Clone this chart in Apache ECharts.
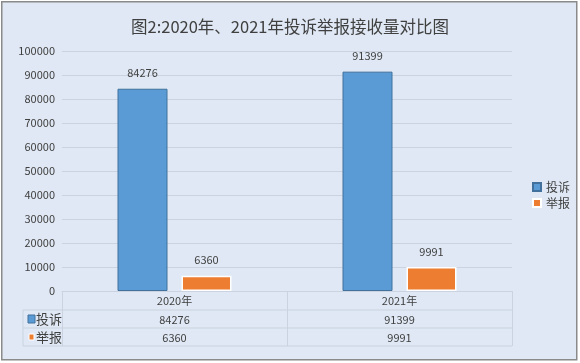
<!DOCTYPE html>
<html>
<head>
<meta charset="utf-8">
<script src="https://cdn.jsdelivr.net/npm/echarts@6/dist/echarts.min.js"></script>
<style>
html,body{margin:0;padding:0;background:#ffffff;}
#c{width:580px;height:363px;}
</style>
</head>
<body>
<div id="c"></div>
<script>
var titleText = '图2:2020年、2021年投诉举报接收量对比图';
var categories = ['2020年', '2021年'];
var seriesNames = ['投诉', '举报'];
var complaints = [84276, 91399];
var reports = [6360, 9991];
var yTicks = [0, 10000, 20000, 30000, 40000, 50000, 60000, 70000, 80000, 90000, 100000];

var colors = ['#5b9bd5', '#ed7d31'];
var textColor = '#404040';
var lineColor = '#cad3df';
var font = '"Noto Sans CJK SC", "Noto Sans", sans-serif';

var chart = echarts.init(document.getElementById('c'), null, {renderer: 'canvas'});

function tableAxis(values, offset) {
  return {
    type: 'category', data: categories, position: 'bottom', offset: offset,
    axisLine: {show: false}, axisTick: {show: false},
    axisLabel: {color: textColor, fontSize: 11, fontFamily: font, margin: 4,
      formatter: function (v, i) { return String(values[i]); }}
  };
}

var hLines = [
  {x1: 23, y1: 310, x2: 512, y2: 310},
  {x1: 23, y1: 328, x2: 512, y2: 328},
  {x1: 23, y1: 346, x2: 512, y2: 346},
  {x1: 23, y1: 310, x2: 23, y2: 346}
];
var graphics = [
  {type: 'rect', left: 1, top: 1, shape: {width: 575, height: 358}, z: -10,
   style: {fill: '#dfe8f4', stroke: '#8a8a8a', lineWidth: 1.5}}
];
hLines.forEach(function (l) {
  graphics.push({type: 'line', shape: l, style: {stroke: lineColor, lineWidth: 1}, z: 1});
});
// row headers of data table
seriesNames.forEach(function (name, i) {
  var cy = 319 + i * 18;
  graphics.push({type: 'rect', shape: i === 0 ? {x: 28, y: cy - 4, width: 7, height: 8} : {x: 29, y: cy - 3, width: 5, height: 6},
    style: {fill: colors[i], stroke: i === 0 ? '#41719c' : '#fff', lineWidth: 1}, z: 2});
  graphics.push({type: 'text', x: 36, y: cy, style: {text: name, fill: textColor,
    font: '13px ' + font, textVerticalAlign: 'middle'}, z: 2});
});

chart.setOption({
  backgroundColor: 'transparent',
  animation: false,
  color: colors,
  title: {
    text: titleText, left: 'center', top: 13,
    textStyle: {color: textColor, fontSize: 16.5, fontWeight: 'normal', fontFamily: font}
  },
  legend: {
    orient: 'vertical', left: 527, top: 176, itemWidth: 8, itemHeight: 8, itemGap: 4,
    icon: 'rect',
    textStyle: {color: textColor, fontSize: 12, fontFamily: font},
    data: seriesNames
  },
  grid: {left: 62, right: 68, top: 51, bottom: 72},
  xAxis: [
    {
      type: 'category', data: categories,
      axisLine: {show: true, lineStyle: {color: lineColor}},
      axisTick: {show: true, alignWithLabel: false, length: 55, lineStyle: {color: lineColor}},
      axisLabel: {color: textColor, fontSize: 11, fontFamily: font, margin: 4}
    },
    tableAxis(complaints, 19),
    tableAxis(reports, 37)
  ],
  yAxis: {
    type: 'value', min: yTicks[0], max: yTicks[yTicks.length - 1], interval: yTicks[1] - yTicks[0],
    axisLine: {show: false}, axisTick: {show: false},
    axisLabel: {color: textColor, fontSize: 11, fontFamily: font, margin: 7,
      formatter: function (v) { return String(v); }},
    splitLine: {lineStyle: {color: lineColor}}
  },
  series: [
    {name: seriesNames[0], type: 'bar', data: complaints, barWidth: 50, barGap: '28%',
     itemStyle: {color: colors[0], borderColor: '#41719c', borderWidth: 1},
     label: {show: true, position: 'top', distance: 10, color: textColor, fontSize: 11, fontFamily: font}},
    {name: seriesNames[1], type: 'bar', data: reports, barWidth: 50,
     itemStyle: {color: colors[1], borderColor: '#ffffff', borderWidth: 1.5},
     label: {show: true, position: 'top', distance: 10, color: textColor, fontSize: 11, fontFamily: font}}
  ],
  graphic: graphics
});
</script>
</body>
</html>
